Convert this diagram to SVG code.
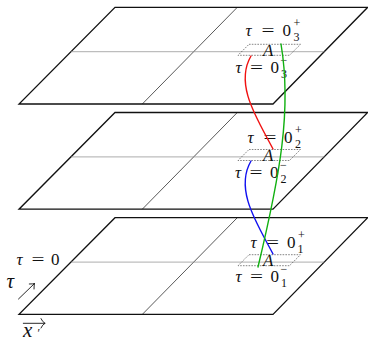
<svg xmlns="http://www.w3.org/2000/svg" width="368" height="341" viewBox="0 0 368 341">
<style>
.edge{fill:none;stroke:#111;stroke-width:1.3;stroke-linejoin:miter}
.div{fill:none;stroke:#111;stroke-width:0.7}
.mid{fill:none;stroke:#8a8a8a;stroke-width:0.7}
.dash{fill:none;stroke:#333;stroke-width:0.6;stroke-dasharray:1.6 1.2}
text{font-family:"Liberation Serif","Times New Roman",serif;font-size:17px;fill:#111}
.it{font-style:italic}
.sm{font-size:12px}
.big{font-size:21px;font-style:italic}
.cur{fill:none;stroke-width:1.4;stroke-linecap:round}
.arr{fill:none;stroke:#111;stroke-width:0.9;stroke-linecap:round}
</style>
<rect width="368" height="341" fill="#fff"/>

<g id="plane-3">
 <path class="edge" d="M19,104 L273,104 L367.7,7.3 L115,7.3 Z"/>
 <path class="div" d="M142.3,104 L237.3,7.3"/>
 <path class="mid" d="M71,51.7 L324.5,51.7"/>
 <path class="dash" d="M249,44.3 L300.5,44.3 L289.5,55.3 L238,55.3 Z"/>
 <text class="it" x="263" y="55.5">A</text>
</g>
<g id="plane-2" transform="translate(0,105.2)">
 <path class="edge" d="M19,104 L273,104 L367.7,7.3 L115,7.3 Z"/>
 <path class="div" d="M142.3,104 L237.3,7.3"/>
 <path class="mid" d="M71,51.7 L324.5,51.7"/>
 <path class="dash" d="M249,44.3 L300.5,44.3 L289.5,55.3 L238,55.3 Z"/>
 <text class="it" x="263" y="55.5">A</text>
</g>
<g id="plane-1" transform="translate(0,210.4)">
 <path class="edge" d="M19,104 L273,104 L367.7,7.3 L115,7.3 Z"/>
 <path class="div" d="M142.3,104 L237.3,7.3"/>
 <path class="mid" d="M71,51.7 L324.5,51.7"/>
 <path class="dash" d="M249,44.3 L300.5,44.3 L289.5,55.3 L238,55.3 Z"/>
 <text class="it" x="263" y="55.5">A</text>
</g>

<g id="label-3plus">
 <text class="it" x="245.5" y="36">τ</text>
 <text x="261.5" y="36" textLength="13" lengthAdjust="spacingAndGlyphs">=</text>
 <text x="282.5" y="36">0</text>
 <text class="sm" x="293.5" y="27">+</text>
 <text class="sm" x="293.5" y="40.5">3</text>
</g>
<g id="label-3minus">
 <text class="it" x="235.5" y="73">τ</text>
 <text x="250" y="73" textLength="13" lengthAdjust="spacingAndGlyphs">=</text>
 <text x="270.5" y="73">0</text>
 <text class="sm" x="280.5" y="64">−</text>
 <text class="sm" x="281" y="77.5">3</text>
</g>
<g id="label-2plus">
 <text class="it" x="247.5" y="143">τ</text>
 <text x="263.5" y="143" textLength="13" lengthAdjust="spacingAndGlyphs">=</text>
 <text x="284" y="143">0</text>
 <text class="sm" x="295" y="134">+</text>
 <text class="sm" x="295" y="147.5">2</text>
</g>
<g id="label-2minus">
 <text class="it" x="235" y="178">τ</text>
 <text x="249.5" y="178" textLength="13" lengthAdjust="spacingAndGlyphs">=</text>
 <text x="270" y="178">0</text>
 <text class="sm" x="280" y="169">−</text>
 <text class="sm" x="280.5" y="182.5">2</text>
</g>
<g id="label-1plus">
 <text class="it" x="250.5" y="248">τ</text>
 <text x="266" y="248" textLength="13" lengthAdjust="spacingAndGlyphs">=</text>
 <text x="287" y="248">0</text>
 <text class="sm" x="298" y="239">+</text>
 <text class="sm" x="297.5" y="252.5">1</text>
</g>
<g id="label-1minus">
 <text class="it" x="235.5" y="282">τ</text>
 <text x="250" y="282" textLength="13" lengthAdjust="spacingAndGlyphs">=</text>
 <text x="270.5" y="282">0</text>
 <text class="sm" x="280.5" y="273">−</text>
 <text class="sm" x="281" y="286.5">1</text>
</g>

<g id="label-tau0">
 <text class="it" x="16.5" y="265">τ</text>
 <text x="31.5" y="265" textLength="13" lengthAdjust="spacingAndGlyphs">=</text>
 <text x="51" y="265">0</text>
</g>

<g id="axes">
 <text class="big" x="6.5" y="288">τ</text>
 <path class="arr" d="M18.5,299 L34.5,283.5"/>
 <path class="arr" d="M29.3,284 Q33,284 34.5,283.5 Q34,285.5 34,289"/>
 <path class="arr" d="M23.3,323.3 L45,323.3"/>
 <path class="arr" d="M41,318.6 Q42.5,322 45,323.3 Q42.5,324.6 41,328"/>
 <text class="big" x="23" y="337">x</text>
 <text class="sm" x="37.5" y="337">′</text>
</g>

<g id="connectors">
 <path class="cur" stroke="#f01010" d="M251,56 C234,85 258,120 273,149"/>
 <path class="cur" stroke="#1010f0" d="M251,161 C234,190 258,225 273,254"/>
 <path class="cur" stroke="#10b010" d="M281,44 C292,110 280,175 258,267"/>
</g>
</svg>
